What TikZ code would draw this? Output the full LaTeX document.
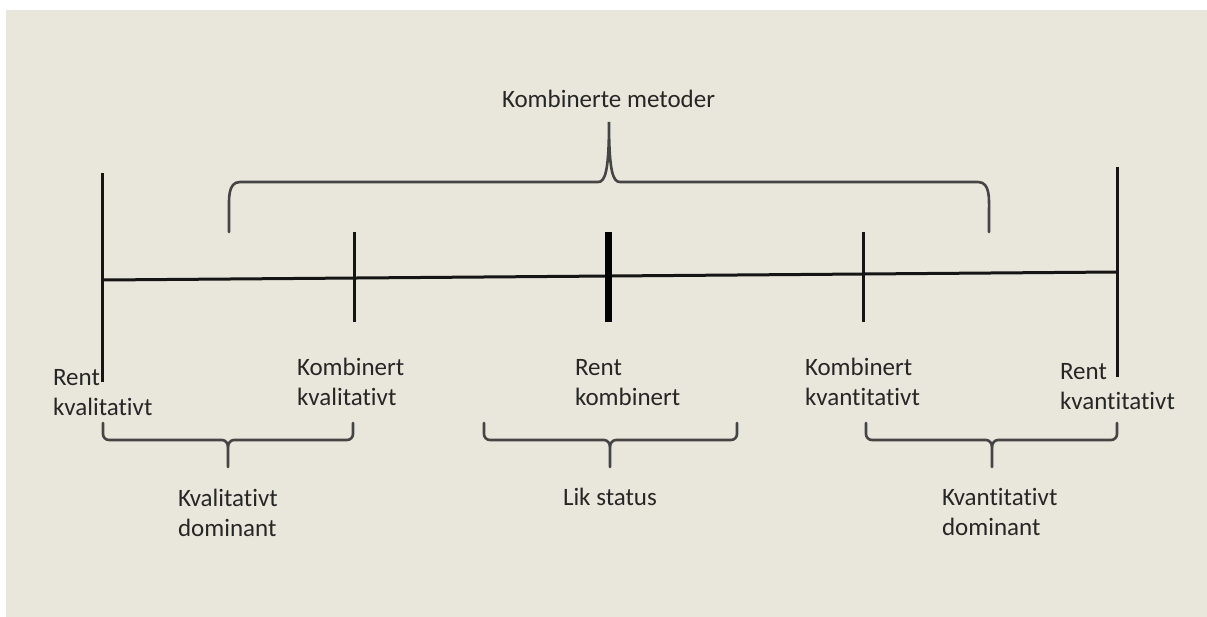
\documentclass[tikz,border=0pt]{standalone}
\usepackage{fontspec}
\setmainfont[Ligatures=NoCommon]{Carlito}
\definecolor{bgbeige}{HTML}{E9E6DB}
\definecolor{axiscol}{HTML}{151515}
\definecolor{bracecol}{HTML}{454545}
\definecolor{txtcol}{HTML}{262626}
\newcommand\twolines[2]{\vtop{\baselineskip=30pt\hbox{#1}\hbox{#2}}}
\begin{document}
\begin{tikzpicture}[x=1pt,y=-1pt,
  axisline/.style={draw=axiscol,line width=3pt},
  bracepath/.style={draw=bracecol,line width=2.6pt,line cap=round},
  lbl/.style={anchor=base west,inner sep=0pt,outer sep=0pt,text=txtcol,font=\fontsize{25}{30}\selectfont}]
\useasboundingbox (0,0) rectangle (1207,616);
\fill[white] (0,0) rectangle (1207,616);
\fill[bgbeige] (6,10) rectangle (1208,617);

% axis coordinates
\coordinate (aL) at (103,280);
\coordinate (aR) at (1117,272);
\coordinate (lvT) at (102,173);
\coordinate (lvB) at (102,382);
\coordinate (rvT) at (1117,167);
\coordinate (rvB) at (1117,377);
\coordinate (t1T) at (354,232);
\coordinate (t1B) at (354,322);
\coordinate (t2T) at (608,232);
\coordinate (t2B) at (608,322);
\coordinate (t3T) at (863,232);
\coordinate (t3B) at (863,322);

\draw[axisline] (aL) -- (aR);
\draw[axisline] (lvT) -- (lvB);
\draw[axisline] (rvT) -- (rvB);
\draw[axisline] (t1T) -- (t1B);
\draw[axisline] (t3T) -- (t3B);
\draw[draw=black,line width=7pt] (t2T) -- (t2B);

% top brace
\coordinate (tbL) at (229,232);
\coordinate (tbR) at (989,232);
\coordinate (tbP) at (609,122);
\draw[bracepath] (tbL) -- (229,212) to[out=90,in=180] (240,182) -- (598,182)
  .. controls (605,182) and (609,172) .. (tbP)
  .. controls (609,172) and (613,182) .. (620,182) -- (978,182)
  to[out=0,in=90] (989,212) -- (tbR);

% bottom braces
\foreach \xa/\xc/\xb/\nm in {103/228/353/bl, 484/610/737/bm, 866/992/1117/br}{
  \coordinate (\nm L) at (\xa,423);
  \coordinate (\nm R) at (\xb,423);
  \coordinate (\nm S) at (\xc,467);
  \draw[bracepath] (\nm L) -- (\xa,434) to[out=-90,in=180] (\xa+6,440) -- (\xc-6,440)
     to[out=0,in=90] (\xc,447) -- (\nm S);
  \draw[bracepath] (\xc,447) to[out=90,in=180] (\xc+6,440) -- (\xb-6,440)
     to[out=0,in=-90] (\xb,434) -- (\nm R);
}

% labels
\node[lbl] (top) at (502,107) {Kombinerte metoder};
\node[lbl] (rkl) at (53,385) {\twolines{Rent}{kvalitativt}};
\node[lbl] (kkl) at (297,375) {\twolines{Kombinert}{kvalitativt}};
\node[lbl] (rkb) at (575,375) {\twolines{Rent}{kombinert}};
\node[lbl] (kkn) at (805,375) {\twolines{Kombinert}{kvantitativt}};
\node[lbl] (rkn) at (1060,379) {\twolines{Rent}{kvantitativt}};
\node[lbl] (kld) at (178,506) {\twolines{Kvalitativt}{dominant}};
\node[lbl] (lik) at (563,505) {Lik status};
\node[lbl] (knd) at (942,505) {\twolines{Kvantitativt}{dominant}};
\end{tikzpicture}
\end{document}
